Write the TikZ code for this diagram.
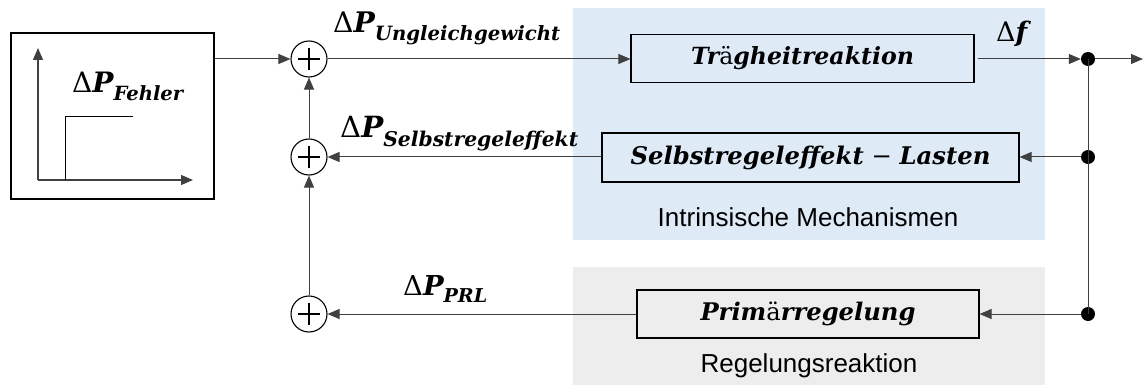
\documentclass[tikz,border=0pt]{standalone}
\usepackage{graphicx}
\usepackage{fontspec}
\setsansfont{Liberation Sans}
\newfontfamily\mfont{DejaVu Serif}
\usetikzlibrary{arrows.meta,calc}
\definecolor{bgblue}{HTML}{DEEBF7}
\definecolor{bggray}{HTML}{EDEDED}
\definecolor{linegray}{HTML}{404040}
\newcommand\bi[1]{{\bfseries\itshape #1}}
\newcommand\sig[3]{\resizebox{#1}{!}{\mfont\fontsize{23}{27}\selectfont Δ\bi{#2}\raisebox{-0.28em}{\fontsize{16}{19}\selectfont\bi{#3}}}}
\newcommand\blk[2]{\resizebox{#1}{!}{\mfont\fontsize{20}{24}\selectfont #2}}
\begin{document}
\begin{tikzpicture}[x=1pt,y=-1pt,
  blockbox/.style={draw=black,line width=1.1pt,inner sep=0pt},
  sumnode/.style={circle,draw=black,line width=1.1pt,minimum size=36pt,inner sep=0pt,
    path picture={\draw[line width=1.1pt]
      ([yshift=-7pt]path picture bounding box.north) -- ([yshift=7pt]path picture bounding box.south)
      ([xshift=7pt]path picture bounding box.west) -- ([xshift=-7pt]path picture bounding box.east);}},
  dotnode/.style={circle,fill=black,minimum size=14pt,inner sep=0pt},
  conn/.style={draw=linegray,line width=1pt,-{Triangle[length=12pt,width=10pt]}},
  wire/.style={draw=linegray,line width=1pt},
  lbl/.style={inner sep=0pt,anchor=base west},
  grouplbl/.style={inner sep=0pt,font=\sffamily\fontsize{26}{30}\selectfont}]
\useasboundingbox (0,0) rectangle (1143,385);
% backgrounds
\fill[bgblue] (573,8) rectangle (1045,240);
\fill[bggray] (573,267) rectangle (1045,385);
% Fehler box
\node[draw=black,line width=1.1pt,minimum width=203pt,minimum height=166pt,inner sep=0pt] (fehler) at (112.5,116) {};
\coordinate (ax0) at (38,180);
\coordinate (axy) at (38,48);
\coordinate (axx) at (193,180);
\draw[black!75,line width=1.2pt,-{Triangle[length=12pt,width=10pt]}] (ax0) -- (axy);
\draw[black!75,line width=1.2pt,-{Triangle[length=12pt,width=10pt]}] (ax0) -- (axx);
\coordinate (st0) at (65,180);
\coordinate (st1) at (65,117);
\coordinate (st2) at (133,117);
\draw[black,line width=1pt] (st0) -- (st1) -- (st2);
\node[lbl] (lf) at (72,93) {\sig{111pt}{P}{Fehler}};
% sums
\node[sumnode] (s1) at (309,59) {};
\node[sumnode] (s2) at (309,157) {};
\node[sumnode] (s3) at (309,314) {};
% blocks
\node[blockbox,minimum width=343pt,minimum height=48pt] (trag) at (802.5,58.5) {\blk{223pt}{\bi{Tr}ä\bi{gheitreaktion}}};
\node[blockbox,minimum width=417pt,minimum height=49pt] (selb) at (810.5,157.5) {\blk{360pt}{\bi{Selbstregeleffekt} − \bi{Lasten}}};
\node[blockbox,minimum width=342pt,minimum height=48pt] (prim) at (808,314) {\blk{215pt}{\bi{Prim}ä\bi{rregelung}}};
% dots
\node[dotnode] (d1) at (1088,59) {};
\node[dotnode] (d2) at (1088,157) {};
\node[dotnode] (d3) at (1088,314) {};
\coordinate (out) at (1143,59);
% group labels
\node[grouplbl] (g1) at (808,217) {Intrinsische Mechanismen};
\node[grouplbl] (g2) at (809,366) {Regelungsreaktion};
% connectors
\draw[conn] (fehler.east |- s1) -- (s1.west);
\draw[conn] (s1.east) -- (s1.east -| trag.west);
\draw[conn] ([xshift=3pt]trag.east |- d1) -- (d1.west);
\draw[conn] (d1.east) -- (out);
\draw[wire] (d1.center) -- (d3.center);
\draw[conn] (d2.west) -- (d2.west -| selb.east);
\draw[conn] (d3.west) -- (d3.west -| prim.east);
\draw[conn] (selb.west |- s2) -- (s2.east);
\draw[conn] (prim.west |- s3) -- (s3.east);
\draw[conn] (s3.north) -- (s2.south);
\draw[conn] (s2.north) -- (s1.south);
% signal labels
\node[lbl] (lu) at (333,33) {\sig{227pt}{P}{Ungleichgewicht}};
\node[lbl] (ls) at (340,138) {\sig{238pt}{P}{Selbstregeleffekt}};
\node[lbl] (lp) at (403,295) {\sig{84pt}{P}{PRL}};
\node[lbl] (ldf) at (996,42) {\sig{31pt}{f}{}};
\end{tikzpicture}
\end{document}
